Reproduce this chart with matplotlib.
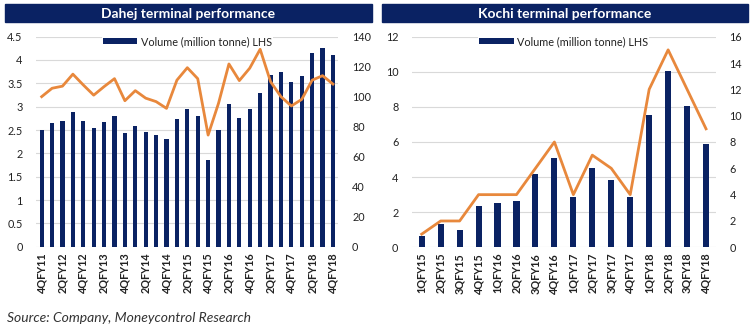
import numpy as np
import matplotlib
matplotlib.use('Agg')
import matplotlib.pyplot as plt
from matplotlib.patches import Rectangle

plt.rcParams['font.family'] = ['Lato', 'DejaVu Sans']

NAVY = '#0a2263'
ORANGE = '#e8883c'
GRID = '#d9d9d9'

# Dahej terminal data
dahej_q = ['4QFY11', '1QFY12', '2QFY12', '3QFY12', '4QFY12', '1QFY13', '2QFY13', '3QFY13',
           '4QFY13', '1QFY14', '2QFY14', '3QFY14', '4QFY14', '1QFY15', '2QFY15', '3QFY15',
           '4QFY15', '1QFY16', '2QFY16', '3QFY16', '4QFY16', '1QFY17', '2QFY17', '3QFY17',
           '4QFY17', '1QFY18', '2QFY18', '3QFY18', '4QFY18']
dahej_vol = [2.50, 2.66, 2.70, 2.89, 2.69, 2.54, 2.68, 2.80, 2.43, 2.58, 2.45, 2.39, 2.31, 2.74,
             2.96, 2.81, 1.86, 2.50, 3.06, 2.76, 2.95, 3.29, 3.68, 3.74, 3.52, 3.66, 4.16, 4.26, 4.11]
dahej_util = [100, 105.6, 107, 115, 107.8, 101, 106.7, 112, 97.3, 104, 99, 96.7, 92.2, 111,
              119.3, 112, 74.4, 95.6, 121.8, 110.7, 119, 131.6, 110, 100, 93.8, 98.2, 111, 114, 108.4]

# Kochi terminal data
kochi_q = ['1QFY15', '2QFY15', '3QFY15', '4QFY15', '1QFY16', '2QFY16', '3QFY16', '4QFY16',
           '1QFY17', '2QFY17', '3QFY17', '4QFY17', '1QFY18', '2QFY18', '3QFY18', '4QFY18']
kochi_vol = [0.65, 1.30, 0.97, 2.38, 2.50, 2.65, 4.19, 5.10, 2.88, 4.51, 3.81, 2.88, 7.52, 10.04, 8.04, 5.90]
kochi_util = [1, 2, 2, 4, 4, 4, 6, 8, 4, 7, 6, 4, 12, 15, 12, 9]

fig = plt.figure(figsize=(7.55, 3.35), dpi=100)


def panel(rect, title_rect, title, labels, vol, util, ylim, yticks, y2lim, y2ticks, bar_w, label_step, ytick_fmt):
    ax = fig.add_axes(rect)
    x = np.arange(len(labels))
    ax.set_axisbelow(True)
    ax.grid(axis='y', color=GRID, linewidth=0.8)
    ax.bar(x, vol, width=bar_w, color=NAVY, label='Volume (million tonne) LHS', zorder=2)
    ax.set_xlim(-0.5, len(labels) - 0.5)
    ax.set_ylim(*ylim)
    ax.set_yticks(yticks)
    ax.set_yticklabels([ytick_fmt(v) for v in yticks])
    ax.set_xticks(x[::label_step])
    ax.set_xticklabels(labels[::label_step], rotation=90, fontsize=7.8, fontweight='bold', color='#222222')
    ax.tick_params(axis='y', labelsize=7.8, length=0, pad=10, labelcolor='#222222')
    ax.tick_params(axis='x', length=0, pad=4)
    for s in ax.spines.values():
        s.set_visible(False)

    ax2 = ax.twinx()
    ax2.plot(x, util, color=ORANGE, linewidth=2, zorder=3)
    ax2.set_ylim(*y2lim)
    ax2.set_yticks(y2ticks)
    ax2.tick_params(axis='y', labelsize=7.8, length=0, pad=10, labelcolor='#222222')
    for s in ax2.spines.values():
        s.set_visible(False)

    leg = ax2.legend(*ax.get_legend_handles_labels(), loc='upper center', bbox_to_anchor=(0.5, 1.035),
                     frameon=True, fontsize=7.8, handlelength=3.2, handleheight=0.5,
                     borderpad=0.1, handletextpad=0.3)
    leg.get_frame().set_facecolor('white')
    leg.get_frame().set_edgecolor('none')
    leg.get_frame().set_alpha(1)
    for t in leg.get_texts():
        t.set_color('#222222')

    fig.patches.append(Rectangle((title_rect[0], title_rect[1]), title_rect[2], title_rect[3],
                                 transform=fig.transFigure, color=NAVY, zorder=0))
    fig.text(title_rect[0] + title_rect[2] / 2, title_rect[1] + title_rect[3] / 2 - 0.002, title,
             color='white', fontsize=10, fontweight='bold', ha='center', va='center')
    return ax, ax2


panel([0.0483, 0.2636, 0.3996, 0.627], [5 / 755, 0.934, 367 / 755, 0.0537], 'Dahej terminal performance',
      dahej_q, dahej_vol, dahej_util, (0, 4.5), np.arange(0, 4.51, 0.5), (0, 140), np.arange(0, 141, 20),
      0.4, 2, lambda v: '0' if v == 0 else ('%g' % v))

panel([0.546, 0.2618, 0.4017, 0.6287], [382 / 755, 0.934, 366 / 755, 0.0537], 'Kochi terminal performance',
      kochi_q, kochi_vol, kochi_util, (0, 12), np.arange(0, 12.1, 2), (0, 16), np.arange(0, 16.1, 2),
      0.32, 1, lambda v: '%g' % v)

fig.text(7 / 755, 1 - 318 / 335, 'Source: Company, Moneycontrol Research', fontsize=10, style='italic',
         color='#333333', va='center', ha='left')

fig.savefig('out.png', dpi=100)
